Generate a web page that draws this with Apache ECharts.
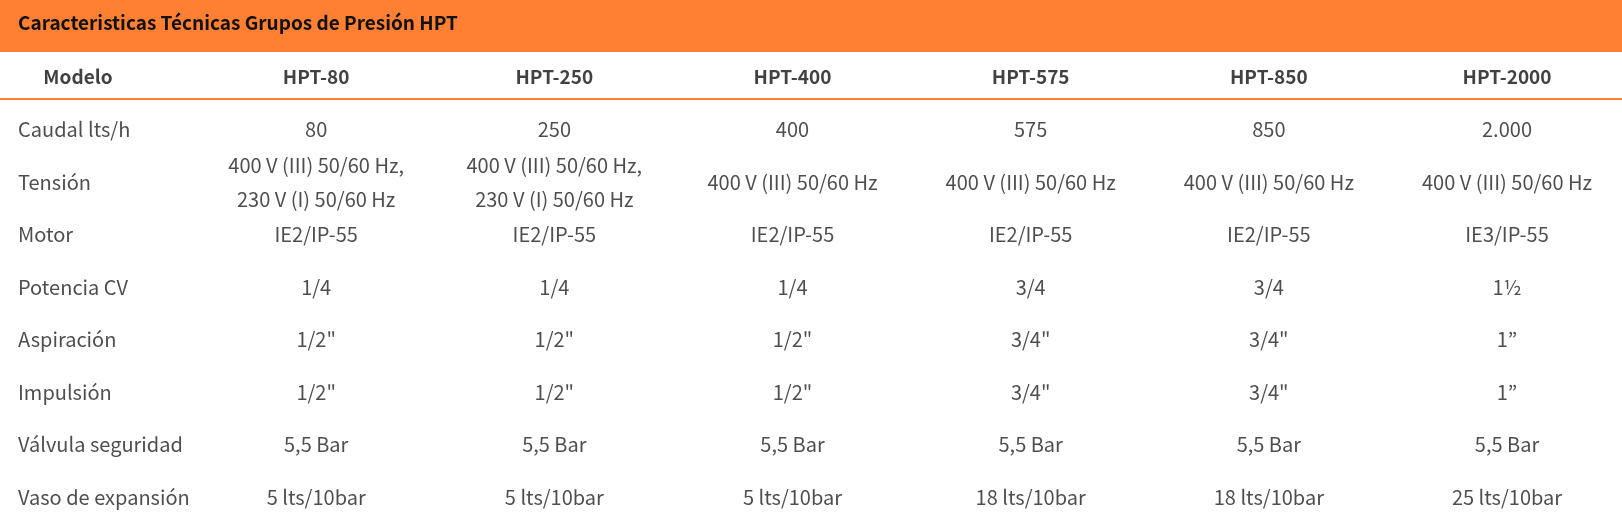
<!DOCTYPE html>
<html>
<head>
<meta charset="utf-8">
<script src="https://cdn.jsdelivr.net/npm/echarts@6/dist/echarts.min.js"></script>
<style>html,body{margin:0;padding:0;background:#fff}#chart{width:1622px;height:527px}</style>
</head>
<body>
<div id="chart"></div>
<script>
var columns = ['Modelo', 'HPT-80', 'HPT-250', 'HPT-400', 'HPT-575', 'HPT-850', 'HPT-2000'];
var rowNames = ['header', 'Caudal lts/h', 'Tensión', 'Motor', 'Potencia CV', 'Aspiración', 'Impulsión', 'Válvula seguridad', 'Vaso de expansión'];
var caudal = ['80', '250', '400', '575', '850', '2.000'];
var tension = ['400 V (III) 50/60 Hz,\n230 V (I) 50/60 Hz', '400 V (III) 50/60 Hz,\n230 V (I) 50/60 Hz', '400 V (III) 50/60 Hz', '400 V (III) 50/60 Hz', '400 V (III) 50/60 Hz', '400 V (III) 50/60 Hz'];
var motor = ['IE2/IP-55', 'IE2/IP-55', 'IE2/IP-55', 'IE2/IP-55', 'IE2/IP-55', 'IE3/IP-55'];
var potencia = ['1/4', '1/4', '1/4', '3/4', '3/4', '1½'];
var aspiracion = ['1/2"', '1/2"', '1/2"', '3/4"', '3/4"', '1”'];
var impulsion = ['1/2"', '1/2"', '1/2"', '3/4"', '3/4"', '1”'];
var valvula = ['5,5 Bar', '5,5 Bar', '5,5 Bar', '5,5 Bar', '5,5 Bar', '5,5 Bar'];
var vaso = ['5 lts/10bar', '5 lts/10bar', '5 lts/10bar', '18 lts/10bar', '18 lts/10bar', '25 lts/10bar'];

var bodyRows = [caudal, tension, motor, potencia, aspiracion, impulsion, valvula, vaso];
var font = '"Noto Sans CJK JP", "Noto Sans", sans-serif';

// celdas: cabecera, columna de nombres y valores
var headerData = [], nameData = [], cellData = [];
columns.forEach(function(c, i) {
    headerData.push({ value: [c, rowNames[0]], text: c });
});
bodyRows.forEach(function(r, j) {
    nameData.push({ value: [columns[0], rowNames[j + 1]], text: rowNames[j + 1] });
    r.forEach(function(v, i) {
        cellData.push({ value: [columns[i + 1], rowNames[j + 1]], text: v });
    });
});

function labelFmt(p) { return p.data.text; }

var myChart = echarts.init(document.getElementById('chart'));
var option = {
    backgroundColor: '#fff',
    animation: false,
    graphic: [
        { type: 'rect', shape: { x: 0, y: 0, width: 1622, height: 52 }, style: { fill: '#ff8033' } },
        { type: 'text', left: 18, top: 13, style: { text: 'Caracteristicas Técnicas Grupos de Presión HPT', font: 'bold 19px ' + font, fill: '#111' } },
        { type: 'rect', shape: { x: 0, y: 98, width: 1622, height: 2 }, style: { fill: '#ff8033' } }
    ],
    grid: { left: 78, right: 115, top: 77, bottom: 30 },
    xAxis: { type: 'category', data: columns, boundaryGap: false, show: false },
    yAxis: { type: 'category', data: rowNames, boundaryGap: false, inverse: true, show: false },
    series: [{
        type: 'scatter', symbolSize: 0, data: headerData,
        label: { show: true, position: 'inside', formatter: labelFmt, fontFamily: font, fontWeight: 'bold', fontSize: 19, color: '#111' }
    }, {
        type: 'scatter', symbolSize: 0, data: nameData,
        label: { show: true, position: 'inside', align: 'left', offset: [-60, 0], formatter: labelFmt, fontFamily: font, fontSize: 20, color: '#222' }
    }, {
        type: 'scatter', symbolSize: 0, data: cellData,
        label: { show: true, position: 'inside', formatter: labelFmt, fontFamily: font, fontSize: 20, lineHeight: 34, color: '#222' }
    }]
};
myChart.setOption(option);
</script>
</body>
</html>
